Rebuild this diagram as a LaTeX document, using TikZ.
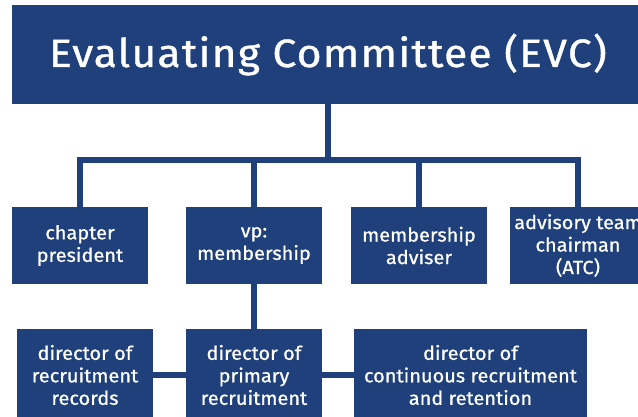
\documentclass[tikz,border=0pt]{standalone}
\usepackage{fontspec}
\setmainfont{Fira Sans}[FakeBold=0.8, FakeStretch=1.05, Ligatures=NoCommon]
\newfontfamily\evctitle{Fira Sans}[FakeBold=0.9, FakeStretch=1.08, LetterSpace=3, Ligatures=NoCommon]
\usepackage{xcolor}
\definecolor{evcblue}{HTML}{1F407A}

\tikzset{
  box/.style={fill=evcblue, text=white, inner sep=0pt, align=center,
    minimum width=136pt, minimum height=77pt,
    font=\fontsize{19}{22.5}\selectfont},
  lowbox/.style={box, minimum height=92pt},
  link/.style={draw=evcblue, line width=6pt},
}

\begin{document}
\begin{tikzpicture}[x=1pt,y=-1pt]
\clip (0,0) rectangle (638,416);

% committee
\node[box, minimum width=632pt, minimum height=99pt,
  font=\evctitle\fontsize{39.5}{44}\selectfont] (evc) at (328,54.5) {Evaluating Committee (EVC)};

% officers
\node[box] (chap) at (80,245.5) {chapter\\president};
\node[box] (vp) at (254,245.5) {vp:\\membership};
\node[box] (adv) at (419,245.5) {membership\\adviser};
\node[box] (atc) at (578,245.5) {advisory team\\chairman\\(ATC)};

% directors
\node[lowbox] (rec) at (85,375) {director of\\recruitment\\records};
\node[lowbox] (prim) at (254,375) {director of\\primary\\recruitment};
\node[lowbox, minimum width=233pt] (cont) at (470.5,375) {director of\\continuous recruitment\\and retention};

\coordinate (bar) at (328,160);
\draw[link] (evc.south) -- (bar);
\draw[link] (chap.north) |- (bar) -| (atc.north);
\draw[link] (vp.north) -- (vp.north |- bar);
\draw[link] (adv.north) -- (adv.north |- bar);
\draw[link] (vp.south) -- (prim.north);
\draw[link] (rec) -- (prim);
\draw[link] (prim) -- (cont);
\end{tikzpicture}
\end{document}
